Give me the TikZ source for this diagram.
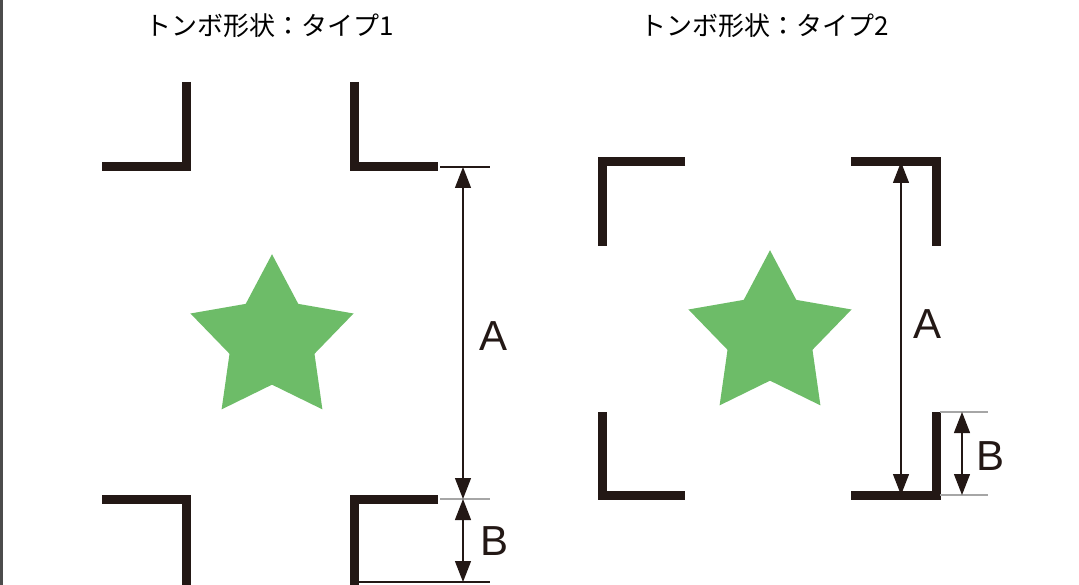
\documentclass[tikz,border=0pt]{standalone}
\usepackage{fontspec}
\usepackage{xcolor}
\setmainfont{Liberation Sans}
\newfontfamily\jpfont{Noto Sans CJK JP}
\usetikzlibrary{arrows.meta}
\usetikzlibrary{shapes}
\definecolor{markblack}{HTML}{231815}
\definecolor{stargreen}{HTML}{6DBC68}
\tikzset{
  cropmark/.style={draw=markblack, line width=9pt, miter limit=10},
  guide/.style={draw=markblack, line width=1.3pt},
  guidegray/.style={draw=gray!70, line width=1.8pt},
  dimline/.style={draw=markblack, line width=1.3pt, {Triangle[length=21pt,width=16pt]}-{Triangle[length=21pt,width=16pt]}},
  greenstar/.style={star, star points=5, star point ratio=1.92, fill=stargreen, minimum size=171.5pt, inner sep=0pt},
  titletext/.style={font=\jpfont\fontsize{26}{26}\selectfont, inner sep=0pt},
  dimtext/.style={font=\fontsize{42}{42}\selectfont, text=markblack, inner sep=0pt}
}
\begin{document}
\begin{tikzpicture}[x=1pt, y=-1pt]
\useasboundingbox (0,0) rectangle (1079,585);
\fill[black!70] (0,0) rectangle (2.5,585);
%
\node[titletext] (title1) at (270, 25.5) {トンボ形状：タイプ1};
\node[titletext] (title2) at (765, 25.5) {トンボ形状：タイプ2};
%
\draw[cropmark] (186, 82) -- (186, 167) -- (102, 167);
\draw[cropmark] (354, 82) -- (354, 167) -- (438, 167);
\draw[cropmark] (102, 499) -- (186, 499) -- (186, 585);
\draw[cropmark] (438, 499) -- (354, 499) -- (354, 585);
%
\draw[cropmark] (685, 162) -- (602, 162) -- (602, 246);
\draw[cropmark] (851, 162) -- (936, 162) -- (936, 246);
\draw[cropmark] (602, 412) -- (602, 495) -- (685, 495);
\draw[cropmark] (936, 412) -- (936, 495) -- (851, 495);
%
\node[greenstar] (star1) at (272, 340) {};
\node[greenstar] (star2) at (770, 336) {};
%
\coordinate (topa1) at (463, 167);
\coordinate (mida1) at (463, 499);
\coordinate (botb1) at (463, 582);
\coordinate (topa2) at (901, 162);
\coordinate (bota2) at (901, 495);
\coordinate (topb2) at (962, 412);
\coordinate (botb2) at (962, 495);
%
\draw[guide] (440, 167) -- (490, 167);
\draw[guidegray] (440, 499) -- (490, 499);
\draw[guide] (358, 582) -- (490, 582);
\draw[guidegray] (940, 412) -- (988, 412);
\draw[guidegray] (940, 495) -- (988, 495);
%
\draw[dimline] (topa1) -- (mida1);
\draw[dimline] (mida1) -- (botb1);
\draw[dimline] (topa2) -- (bota2);
\draw[dimline] (topb2) -- (botb2);
%
\node[dimtext] (labela1) at (493.5, 336) {A};
\node[dimtext] (labelb1) at (494.5, 541) {B};
\node[dimtext] (labela2) at (927, 324) {A};
\node[dimtext] (labelb2) at (990, 456) {B};
\end{tikzpicture}
\end{document}
